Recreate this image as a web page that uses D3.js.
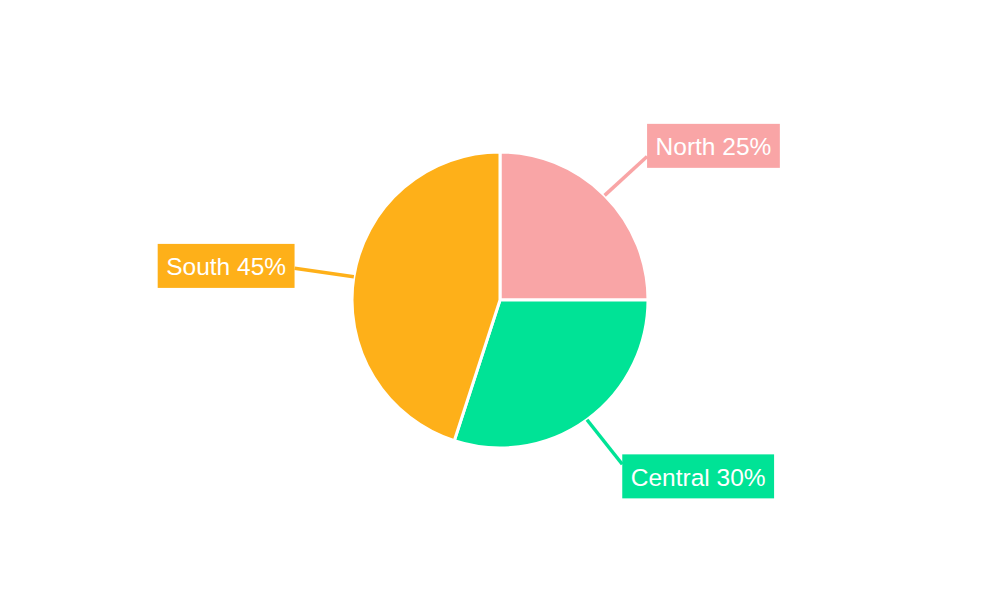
<!DOCTYPE html>
<html>
<head>
<meta charset="utf-8">
<script src="https://cdn.jsdelivr.net/npm/d3@7"></script>
<style>
  html, body { margin: 0; padding: 0; background: #fff; }
  svg { display: block; }
</style>
</head>
<body>
<svg id="chart" width="1000" height="600"></svg>
<script>
// Regional share data
const regions = ["North", "Central", "South"];
const shares = [25, 30, 45];
const colors = ["#F9A5A6", "#00E396", "#FEB019"];

const width = 1000, height = 600;
const cx = 500, cy = 300, radius = 148;
// labels sit on a slightly flattened orbit around the pie
const orbitX = 208, orbitY = 203;
const fontSize = 24.5;
const padX = 8.5, boxH = 44;

const svg = d3.select("#chart");
const g = svg.append("g").attr("transform", `translate(${cx},${cy})`);

const data = regions.map((r, i) => ({ region: r, value: shares[i], color: colors[i] }));

const pie = d3.pie().sort(null).value(d => d.value);
const arc = d3.arc().innerRadius(0).outerRadius(radius);
const arcs = pie(data);

// Slices
g.selectAll("path.slice")
  .data(arcs)
  .join("path")
  .attr("class", "slice")
  .attr("d", arc)
  .attr("fill", d => d.data.color)
  .attr("stroke", "#fff")
  .attr("stroke-width", 3)
  .attr("stroke-linejoin", "round");

// Leader lines and boxed labels
arcs.forEach(d => {
  const a = (d.startAngle + d.endAngle) / 2;
  const sx = Math.sin(a), sy = -Math.cos(a);
  const x0 = sx * radius, y0 = sy * radius;
  const x1 = sx * orbitX, y1 = sy * orbitY;

  g.append("line")
    .attr("x1", x0).attr("y1", y0)
    .attr("x2", x1).attr("y2", y1)
    .attr("stroke", d.data.color)
    .attr("stroke-width", 3.5);

  const lg = g.append("g");
  const rect = lg.append("rect").attr("fill", d.data.color);
  const text = lg.append("text")
    .attr("font-family", "Liberation Sans, Arial, sans-serif")
    .attr("font-size", fontSize)
    .attr("fill", "#fff")
    .attr("dominant-baseline", "central")
    .text(`${d.data.region} ${d.data.value}%`);

  const tw = text.node().getComputedTextLength();
  const boxW = tw + padX * 2;
  const right = sx >= 0;
  const bx = right ? x1 : x1 - boxW;
  const byc = y1 + sy * 15;

  rect.attr("x", bx).attr("y", byc - boxH / 2)
    .attr("width", boxW).attr("height", boxH);
  text.attr("x", bx + padX).attr("y", byc + 1);
});
</script>
</body>
</html>
